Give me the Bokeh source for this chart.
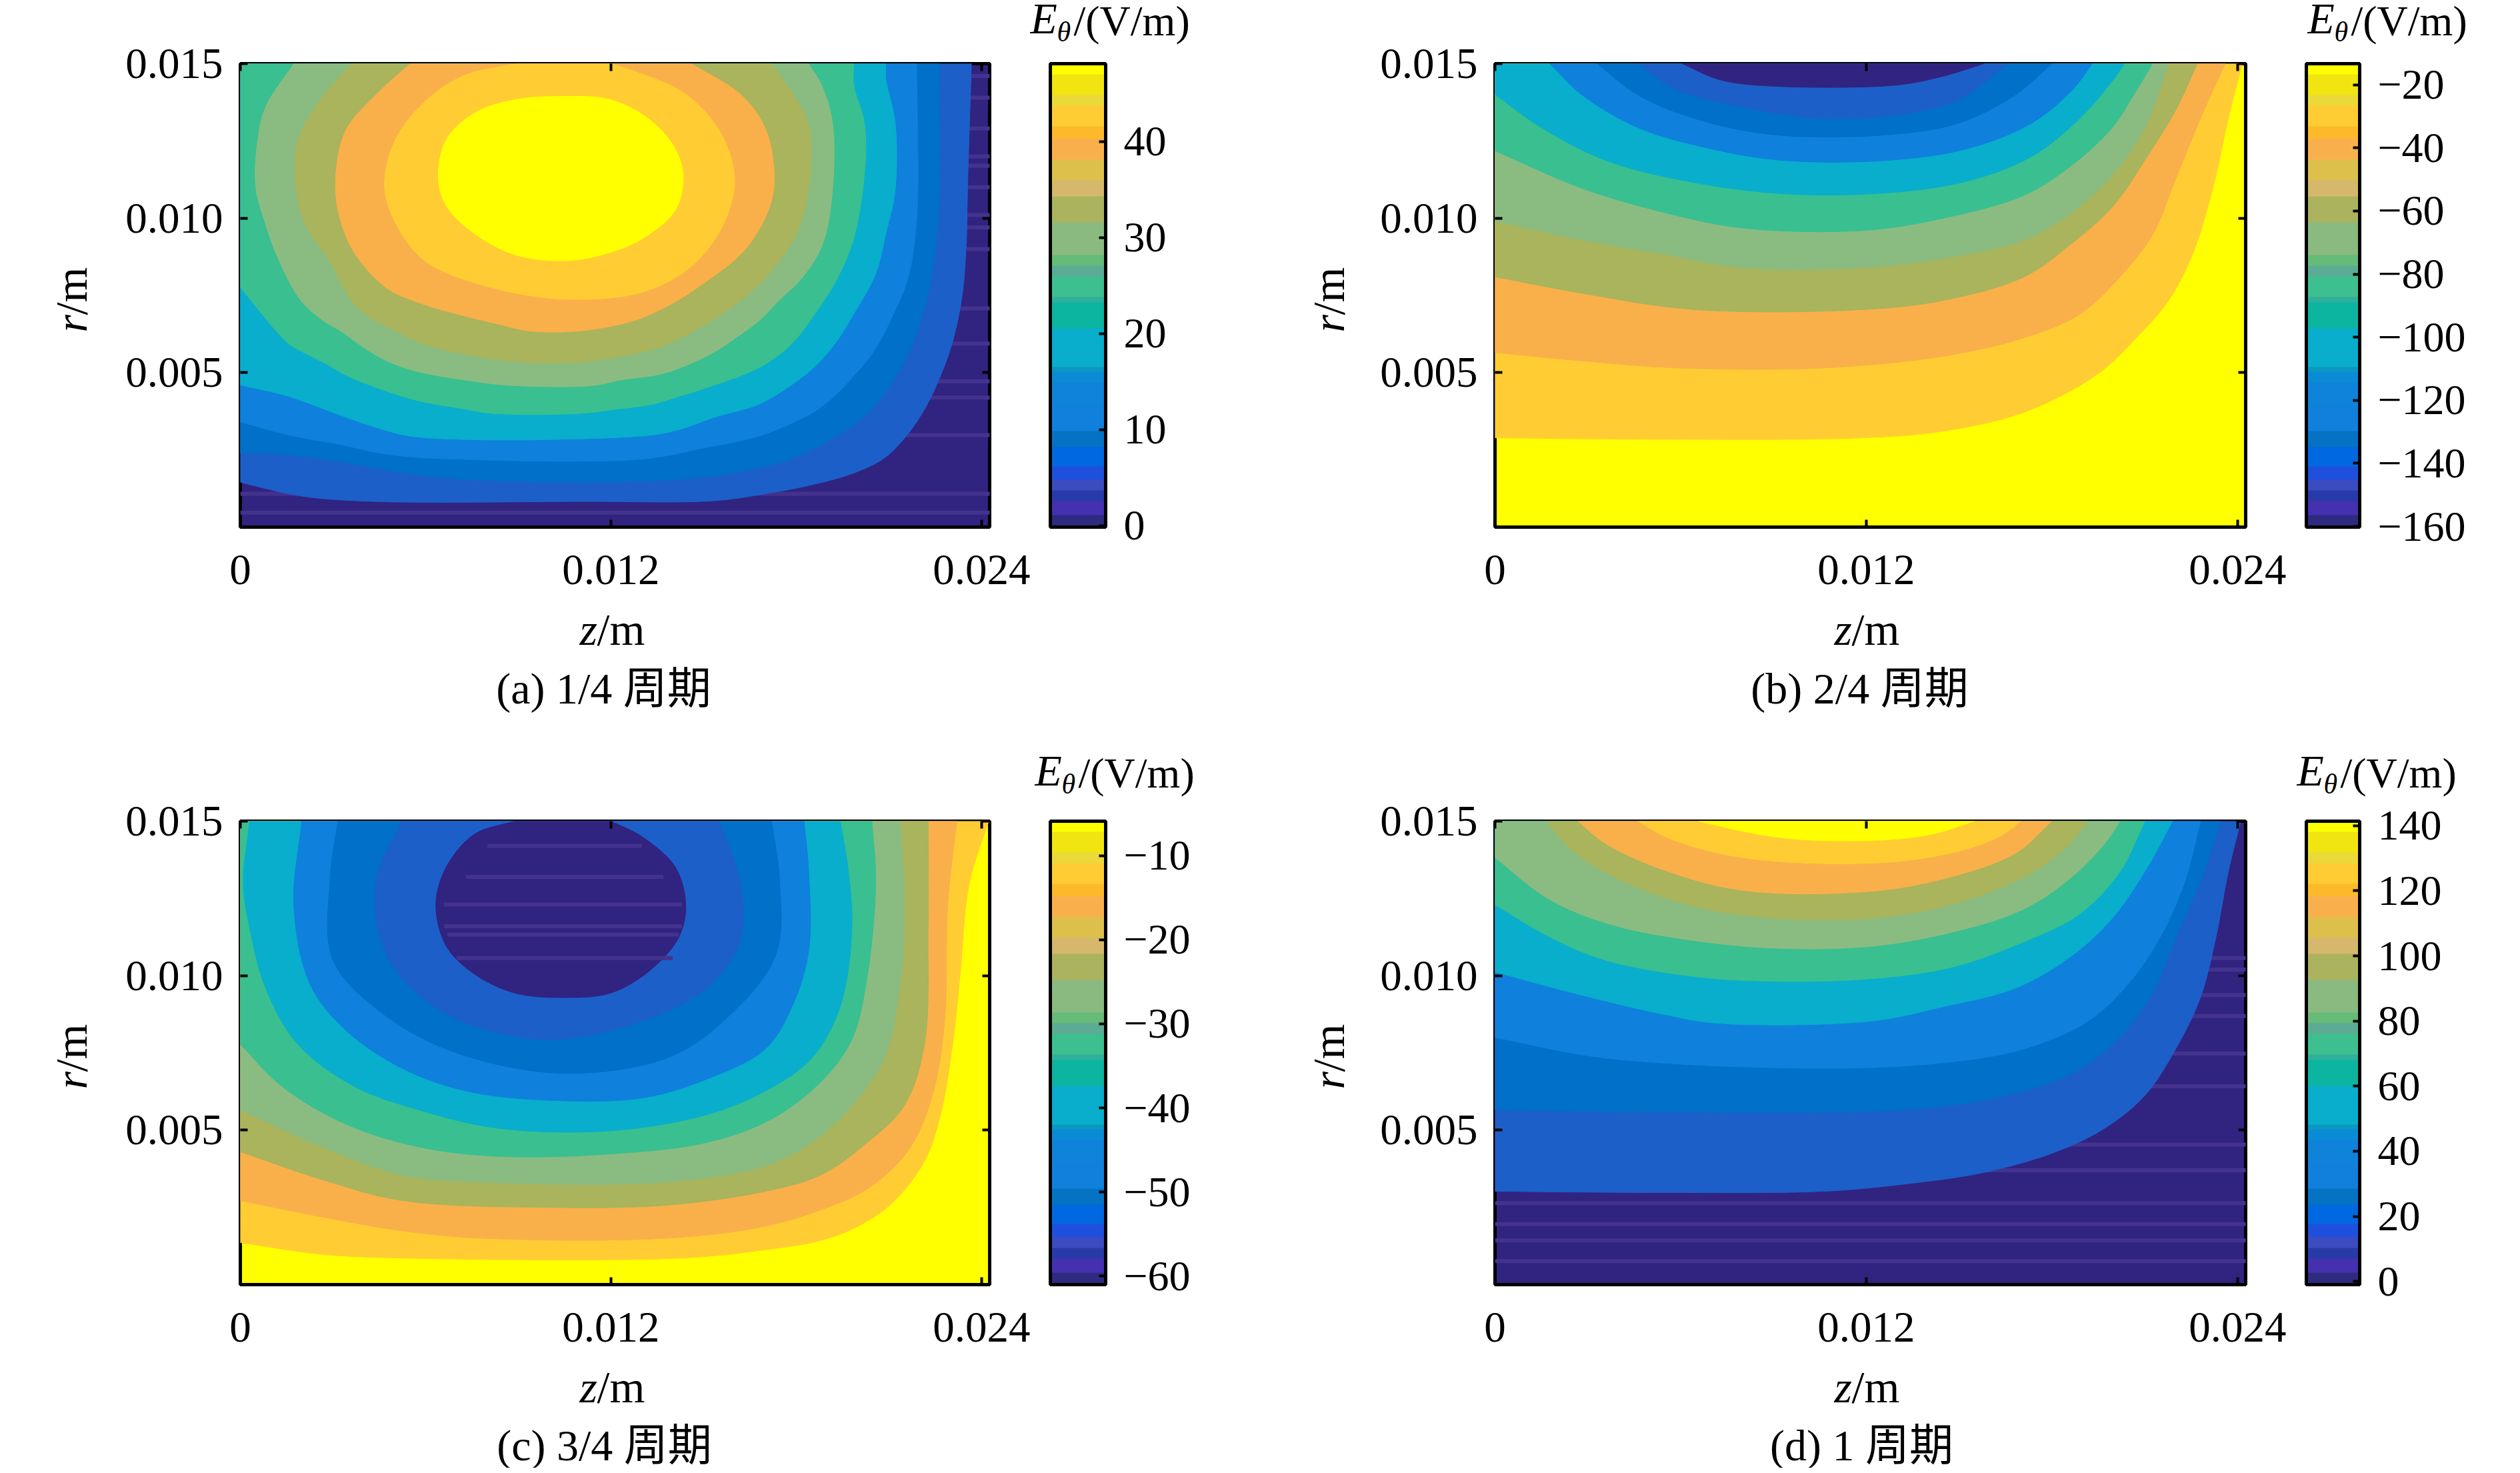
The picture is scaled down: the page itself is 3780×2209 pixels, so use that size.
from math import pi
from bokeh.embed import file_html
from bokeh.layouts import column, row
from bokeh.models import (ColorBar, ColumnDataSource, FixedTicker, Label, LinearAxis,
                          LinearColorMapper, Range1d)
from bokeh.plotting import figure
from bokeh.resources import INLINE

# ---------- fill colours of the contour bands ----------
navy, royal, mid, light, cyan = "#312380", "#1D5FC8", "#0070C8", "#0F80DC", "#08AECC"
green, sage, olive, orange, gold, yellow = "#3ABF90", "#8ABC82", "#A9B45C", "#F9B04A", "#FFCD33", "#FFFF00"
stripe_color = "#44338E"
rising_colors = [royal, mid, light, cyan, green, sage, olive, orange, gold, yellow]
falling_colors = [gold, orange, olive, sage, green, cyan, light, mid, royal, navy]

# ---------- colour bar bands, bottom to top ----------
bar_colors = ["#2E2A80", "#4530B0", "#273BA8", "#3B4CC0", "#1F50DD", "#0068E0", "#0672C4", "#1080DC", "#0F82D9",
              "#0A8BD5", "#0A98C0", "#09AECC", "#0CB5A0", "#2FB09A", "#3DBF8F", "#5CAB94", "#66BB78", "#8ABA80",
              "#ACB35E", "#D5B86C", "#DDC04C", "#F9B04C", "#FDB929", "#FFCC33", "#EBD93A", "#F0E510", "#FFFF00"]
bar_counts = [7, 8, 6, 6, 8, 11, 9, 15, 13, 6, 3, 22, 15, 3, 12, 6, 6, 19, 15, 9, 12, 12, 7, 12, 6, 12, 6]

# ---------- faint horizontal stripes seen in the darkest band: (z from, z to, r) in mm ----------
a_stripes = [(0, 24.3, r) for r in (.47, 1.08, 2.98, 4.19, 4.72, 5.94, 7.08, 9, 9.7, 10.1, 11, 11.7, 12, 12.9, 13.9, 14.6)]
b_stripes = []
c_stripes = [(8, 13, 14.2), (7.3, 13.7, 13.2), (6.6, 14.3, 12.3), (6.6, 14.3, 11.6), (6.7, 14.2, 11.33), (7, 14, 10.57)]
d_stripes = [(0, 24.3, r) for r in (.76, 1.43, 1.96, 2.64, 3.7, 4.53, 6.42, 7.48, 8.69, 9.37, 10.2, 10.57)]

# ---------- contour curves, (z, r) in mm, nested from outermost to innermost ----------
a_contours = [
    [(0, 1.45), (1.94, 1.01), (4.32, .83), (11, .83), (15.3, .85), (17, 1.08), (18.5, 1.37), (19.86, 1.75), (20.87, 2.25), (21.6, 3), (22.2, 3.9), (22.67, 4.9), (23.06, 6), (23.37, 7.5), (23.5, 9.1), (23.55, 11.2), (23.67, 15), (0, 15)],
    [(0, 2.4), (1.2, 2.38), (3, 2.15), (5.7, 1.7), (8, 1.51), (14.3, 1.55), (16.7, 1.9), (17.8, 2.2), (19.2, 2.89), (20.1, 3.5), (20.8, 4.26), (21.3, 5), (21.7, 5.8), (22, 6.6), (22.3, 7.7), (22.6, 10), (22.62, 15), (0, 15)],
    [(0, 3.4), (1.7, 2.95), (3.1, 2.7), (4.8, 2.35), (7, 2.2), (13, 2.2), (15, 2.56), (16.6, 2.89), (17.6, 3.25), (18.6, 3.75), (19.3, 4.3), (19.86, 4.9), (20.3, 5.4), (20.7, 6), (21.1, 6.8), (21.6, 8), (21.9, 10), (21.9, 15), (0, 15)],
    [(0, 4.6), (1.5, 4.25), (3.3, 3.6), (4.32, 3.25), (5.68, 2.92), (12.6, 2.92), (14, 3.1), (15.4, 3.57), (16.77, 3.97), (17.77, 4.55), (18.6, 5.2), (19.3, 6), (19.86, 6.9), (20.57, 8.2), (20.9, 9.5), (21.2, 10.9), (21.2, 13.1), (20.9, 14.5), (20.9, 15), (0, 15)],
    [(0, 7.76), (.5, 7.14), (.86, 6.7), (1.22, 6.28), (1.58, 5.92), (2.23, 5.56), (2.8, 5.27), (3.45, 4.9), (4.32, 4.55), (5.68, 4.11), (7.27, 3.82), (8.13, 3.68), (11, 3.68), (12.2, 3.82), (13.3, 3.97), (14.3, 4.26), (15.3, 4.58), (16.4, 4.98), (17.1, 5.34), (17.84, 5.92), (18.6, 6.9), (19.3, 8), (19.86, 9.35), (20.22, 11.6), (20.2, 13.1), (19.86, 14.3), (19.86, 15), (0, 15)],
    [(1.73, 15), (.82, 13.6), (.56, 12.5), (.5, 11), (.82, 9.8), (1.2, 8.75), (1.94, 7.36), (2.66, 6.7), (3.24, 6.35), (3.96, 5.84), (4.68, 5.41), (5.68, 5.05), (7.7, 4.7), (8.85, 4.58), (11.4, 4.58), (12.3, 4.76), (13.6, 4.95), (14.6, 5.3), (15.4, 5.7), (16, 6.1), (16.77, 6.66), (17.5, 7.4), (18.13, 8), (18.84, 9.13), (19.17, 10.9), (19.17, 13.1), (18.82, 14.3), (18.4, 15)],
    [(3.6, 15), (2.64, 13.9), (1.86, 12.5), (1.8, 11), (2.1, 9.8), (2.9, 8.6), (3.63, 7.3), (4.32, 6.7), (5.03, 6.35), (5.68, 6.02), (6.76, 5.7), (9.14, 5.34), (11, 5.34), (12.2, 5.5), (13.5, 5.8), (14.7, 6.35), (15.6, 6.9), (16.4, 7.5), (17.2, 8.3), (18, 9.5), (18.4, 11), (18.4, 13), (17.9, 14), (17.2, 15)],
    [(5.5, 15), (4.46, 14.06), (3.42, 12.85), (3.1, 11.5), (3.16, 10.26), (3.68, 8.9), (4.72, 7.75), (5.68, 7.3), (7, 6.9), (8.4, 6.56), (9.35, 6.35), (11, 6.35), (12.6, 6.64), (13.3, 6.9), (14, 7.25), (14.87, 7.8), (16.4, 9.05), (17.2, 10.57), (17.26, 11.8), (16.95, 13), (16.2, 14), (14.6, 15)],
    [(8.9, 15), (7.2, 14.6), (5.9, 13.7), (5, 12.5), (4.67, 11), (5.1, 9.7), (6, 8.6), (7.84, 7.83), (10.44, 7.38), (13, 7.6), (14.6, 8.44), (15.64, 9.8), (16, 11.3), (15.5, 12.85), (14.35, 14.06), (12.8, 14.74), (12, 15)],
    [(6.41, 11.3), (6.67, 12.54), (7.58, 13.4), (8.88, 13.83), (10.44, 13.94), (12, 13.83), (13.3, 13.15), (14.08, 12.24), (14.34, 11.33), (14.08, 10.26), (13.04, 9.35), (11.74, 8.82), (10.44, 8.62), (8.88, 8.82), (7.58, 9.5), (6.67, 10.4), (6.41, 11.3)],
]
b_contours = [
    [(0, 2.89), (5.4, 2.84), (11.9, 2.89), (14.5, 3.11), (17.1, 3.72), (19.43, 4.92), (20.73, 6.13), (21.77, 7.34), (22.55, 8.85), (23.2, 10.97), (23.7, 13.23), (24.15, 15), (0, 15)],
    [(0, 5.65), (2.8, 5.38), (5.92, 5.15), (10.6, 5.15), (14.5, 5.53), (17.1, 6.13), (18.9, 6.89), (20.2, 8.1), (21.25, 9.46), (22, 11.27), (22.8, 13.23), (23.6, 15), (0, 15)],
    [(0, 8.1), (2.8, 7.57), (6.44, 7.04), (11.9, 7.04), (14.5, 7.34), (17.1, 8.1), (18.6, 9.15), (19.95, 10.36), (21, 11.87), (22, 13.5), (22.7, 15), (0, 15)],
    [(0, 9.91), (2.8, 9.3), (5.4, 8.85), (8, 8.4), (11.9, 8.4), (14.5, 8.7), (17.1, 9.3), (18.65, 10.2), (19.95, 11.4), (21, 12.94), (21.77, 15), (0, 15)],
    [(0, 12.18), (2.8, 10.97), (5.4, 10.2), (8, 9.68), (11.9, 9.6), (14.5, 10), (17.1, 10.74), (18.65, 11.72), (19.95, 12.93), (20.73, 14.14), (21.25, 15), (0, 15)],
    [(0, 14), (1.5, 12.93), (3.58, 11.87), (6.18, 11.2), (9.3, 10.79), (12.68, 10.82), (15.27, 11.2), (17.35, 12), (18.9, 13.23), (19.95, 14.44), (20.34, 15), (0, 15)],
    [(1.77, 15), (2.8, 14), (4.62, 12.93), (6.96, 12.25), (9.3, 11.87), (12.68, 11.87), (15.27, 12.25), (17.35, 13.08), (18.65, 14.14), (19.3, 15)],
    [(3.3, 15), (4.6, 14), (6.44, 13.23), (9, 12.7), (12.7, 12.7), (15, 13.08), (16.83, 14), (18, 15)],
    [(4.62, 15), (5.92, 14.14), (8, 13.6), (10.6, 13.23), (13.2, 13.38), (15, 13.84), (16.57, 15)],
    [(6.05, 15), (7.2, 14.5), (8.5, 14.3), (12.9, 14.3), (14.5, 14.6), (15.8, 15)],
]
c_contours = [
    [(0, 1.36), (2.64, .98), (5.24, .86), (14.3, .86), (17, 1.13), (18.8, 1.43), (20, 1.89), (21.1, 2.64), (22.15, 4), (22.67, 5.5), (23.06, 7.78), (23.3, 10), (23.6, 13), (24.23, 15), (0, 15)],
    [(0, 2.72), (2.64, 2.19), (5.24, 1.74), (7.84, 1.5), (13.8, 1.5), (17, 1.89), (18.8, 2.42), (20.3, 3.1), (21.6, 4.3), (22.4, 6.1), (22.8, 8.5), (22.9, 12.3), (23.2, 15), (0, 15)],
    [(0, 4.3), (2.64, 3.4), (5.24, 2.72), (9.9, 2.5), (13.8, 2.57), (17, 3.02), (18.8, 3.55), (20.3, 4.6), (21.5, 5.8), (22.15, 7.78), (22.27, 11.56), (22.27, 15), (0, 15)],
    [(0, 5.66), (2.64, 4.46), (5.24, 3.55), (7.84, 3.32), (13.8, 3.32), (17, 3.85), (18.5, 4.6), (19.8, 5.8), (20.85, 7.33), (21.36, 9.74), (21.5, 12.3), (21.36, 15), (0, 15)],
    [(0, 7.78), (1.34, 6.42), (3.4, 5.2), (5.76, 4.46), (8.36, 4.15), (12, 4.23), (15.1, 4.6), (17.2, 5.36), (18.8, 6.57), (19.8, 7.93), (20.3, 10), (20.57, 13), (20.45, 15), (0, 15)],
    [(.3, 15), (.1, 13), (.3, 11.56), (.82, 9.6), (1.86, 7.78), (3.68, 6.42), (5.76, 5.66), (8.36, 5.06), (12, 4.98), (15.1, 5.5), (17, 6.27), (18.5, 7.33), (19.42, 9), (19.8, 11.56), (19.67, 13.5), (19.42, 15)],
    [(1.99, 15), (1.73, 12.3), (2.25, 9.74), (3.42, 8.23), (5.24, 7), (7.3, 6.27), (9.9, 5.97), (13, 6.04), (15.1, 6.65), (17, 7.63), (17.86, 9), (18.4, 10.8), (18.4, 13.37), (18.25, 15)],
    [(3.16, 15), (2.9, 13.07), (3, 10.5), (4.72, 8.69), (7.06, 7.48), (10.44, 6.84), (13.8, 7.33), (15.64, 8.53), (17.33, 10.65), (17.46, 13.07), (17.2, 15)],
    [(5.24, 15), (4.46, 13.37), (4.4, 11.86), (5, 10.2), (6.8, 8.69), (9.9, 7.93), (13, 8.53), (15.1, 9.6), (16.17, 11.1), (16.17, 13.07), (15.5, 15)],
    [(8.88, 15), (7.58, 14.58), (6.67, 13.52), (6.33, 12.3), (6.67, 10.95), (7.58, 10.05), (8.88, 9.44), (10.44, 9.29), (12, 9.44), (13.3, 10.2), (14.2, 11.25), (14.42, 12.3), (14.08, 13.52), (13, 14.5), (12, 15)],
]
d_contours = [
    [(0, 3.02), (5.4, 2.98), (10.6, 3.02), (13.2, 3.25), (15.8, 3.63), (18.13, 4.3), (19.7, 5.06), (21, 6.12), (22, 7.63), (22.8, 9.3), (23.3, 11.25), (23.7, 13.37), (24.1, 15), (0, 15)],
    [(0, 5.66), (5.4, 5.59), (13.2, 5.66), (15.8, 5.97), (18.4, 6.72), (19.95, 7.78), (21.25, 9.44), (22, 11.25), (22.8, 13.07), (23.45, 15), (0, 15)],
    [(0, 8), (3.58, 7.33), (10.6, 7), (14.5, 7.18), (17.1, 7.63), (19.17, 8.53), (20.47, 9.74), (21.5, 11.25), (22.3, 13.07), (22.8, 15), (0, 15)],
    [(0, 10.12), (2.8, 9.37), (5.4, 8.76), (7.2, 8.46), (12.16, 8.53), (14.5, 9), (16.83, 9.6), (18.65, 10.65), (19.95, 11.86), (21, 13.37), (21.9, 15), (0, 15)],
    [(0, 12.3), (1.77, 11.25), (3.58, 10.5), (6.44, 9.97), (9, 9.82), (12.16, 9.9), (14.75, 10.27), (17.1, 11.1), (18.9, 12), (20.2, 13.37), (21, 15), (0, 15)],
    [(0, 13.82), (1.77, 12.46), (3.84, 11.63), (6.7, 11.1), (9.3, 10.88), (12.16, 10.95), (14.75, 11.4), (17.1, 12.16), (18.65, 13.2), (19.7, 14.27), (20.2, 15), (0, 15)],
    [(1.64, 15), (2.55, 14), (4.1, 13.07), (6.44, 12.24), (9, 11.86), (12.16, 11.86), (14.75, 12.3), (17.1, 13.2), (18.4, 14.1), (19.17, 15)],
    [(2.68, 15), (3.58, 14.27), (5.4, 13.44), (8, 12.76), (12.16, 12.73), (14.75, 13.2), (16.83, 13.97), (18, 15)],
    [(4.62, 15), (5.66, 14.43), (8, 13.82), (12.16, 13.64), (14.75, 13.97), (16.3, 14.5), (17, 15)],
    [(6.57, 15), (8.5, 14.58), (10, 14.4), (12.7, 14.4), (14.2, 14.6), (15.5, 15)],
]

# ---------- axes and labels ----------
z_ticks = [0, 0.012, 0.024]
z_tick_labels = ["0", "0.012", "0.024"]
r_ticks = [0.005, 0.010, 0.015]
r_tick_labels = ["0.005", "0.010", "0.015"]
z_max, r_max = 0.02426, 0.015
captions = ["(a) 1/4 周期", "(b) 2/4 周期", "(c) 3/4 周期", "(d) 1 周期"]
a_bar_ticks, a_bar_low, a_bar_high = [0, 10, 20, 30, 40], -0.15, 48.1
b_bar_ticks, b_bar_low, b_bar_high = [-160, -140, -120, -100, -80, -60, -40, -20], -160.2, -13.3
c_bar_ticks, c_bar_low, c_bar_high = [-60, -50, -40, -30, -20, -10], -61, -5.9
d_bar_ticks, d_bar_low, d_bar_high = [0, 20, 40, 60, 80, 100, 120, 140], -1, 141.4

SERIF = "Liberation Serif"
MIXED = "Liberation Serif, Noto Sans CJK SC"
TICK_PX = "65px"


def smooth(pts):
    """Draw a read curve as a centripetal Catmull-Rom spline through its read points."""
    corner = None
    pts = list(pts)
    if pts[-1] == (0, 15) and pts[0] != (0, 15):
        corner = pts.pop()
    closed = pts[0] == pts[-1]
    if closed:
        ext = [pts[-2]] + pts + [pts[1]]
    else:
        a, b = pts[0], pts[1]
        y, z = pts[-2], pts[-1]
        ext = [(2 * a[0] - b[0], 2 * a[1] - b[1])] + pts + [(2 * z[0] - y[0], 2 * z[1] - y[1])]
    out = []
    for i in range(1, len(ext) - 2):
        p0, p1, p2, p3 = ext[i - 1], ext[i], ext[i + 1], ext[i + 2]
        dist = lambda u, v: max(((u[0] - v[0]) ** 2 + (u[1] - v[1]) ** 2) ** 0.25, 1e-6)
        t0, t1 = 0.0, dist(p0, p1)
        t2 = t1 + dist(p1, p2)
        t3 = t2 + dist(p2, p3)
        for k in range(8):
            t = t1 + (t2 - t1) * k / 8
            def lerp(u, v, ta, tb):
                w = (t - ta) / (tb - ta)
                return (u[0] + (v[0] - u[0]) * w, u[1] + (v[1] - u[1]) * w)
            a1, a2, a3 = lerp(p0, p1, t0, t1), lerp(p1, p2, t1, t2), lerp(p2, p3, t2, t3)
            b1, b2 = lerp(a1, a2, t0, t2), lerp(a2, a3, t1, t3)
            out.append(lerp(b1, b2, t1, t2))
    out.append(pts[-1])
    if corner:
        out.append(corner)
    return out


def strip(x0, y0, w, h, items, base=None):
    """A bare figure that only carries texts; items are (page x, page y, text, size, style, align, angle).
    base is the page y of the strip's frame bottom, when a row aligns it with its neighbour's frame."""
    if base is None:
        base = y0 + h
    s = figure(width=w, height=h, output_backend="svg", toolbar_location=None, min_border=0,
               x_range=Range1d(0, 1), y_range=Range1d(0, 1), x_axis_location=None, y_axis_location=None,
               outline_line_color=None, background_fill_color=None, border_fill_color=None)
    s.grid.visible = False
    for x, y, text, size, style, align, angle in items:
        s.add_layout(Label(x=x - x0, y=base - y, x_units="screen", y_units="screen", text=text,
                           text_font=MIXED, text_font_size=size, text_font_style=style, text_align=align,
                           text_baseline="middle", text_color="black", angle=angle, angle_units="rad"))
    return s


def panel(contours, colors, base, stripes, ticks, low, high, caption, ox, oy, w, frame_left, frame_top, frame_w, xy):
    frame_h, top_h, gap_top, gap_bottom = 695, frame_top - oy - 25, 25, 105
    strip_w = 150
    main_y = oy + top_h
    main_h = gap_top + frame_h + gap_bottom
    main_w = w - strip_w
    left = frame_left - ox - strip_w
    p = figure(width=main_w, height=main_h, output_backend="svg", toolbar_location=None,
               x_range=Range1d(0, z_max), y_range=Range1d(0, r_max),
               min_border_left=left, min_border_top=gap_top, min_border_right=main_w - left - frame_w,
               min_border_bottom=gap_bottom, x_axis_location=None, y_axis_location=None,
               background_fill_color=base, outline_line_color="black", outline_line_width=5)
    p.grid.visible = False
    curves = [smooth(c) for c in contours]
    src = ColumnDataSource(dict(xs=[[pt[0] * 1e-3 for pt in c] for c in curves],
                                ys=[[pt[1] * 1e-3 for pt in c] for c in curves], color=colors))
    if base == navy and stripes:
        p.segment([s[0] * 1e-3 for s in stripes], [s[2] * 1e-3 for s in stripes],
                  [s[1] * 1e-3 for s in stripes], [s[2] * 1e-3 for s in stripes],
                  line_color=stripe_color, line_width=6)
    p.patches("xs", "ys", source=src, fill_color="color", line_color="color", line_width=1)
    if base != navy and stripes:
        p.segment([s[0] * 1e-3 for s in stripes], [s[2] * 1e-3 for s in stripes],
                  [s[1] * 1e-3 for s in stripes], [s[2] * 1e-3 for s in stripes],
                  line_color=stripe_color, line_width=6)

    def axis(side, ticker_vals, names, standoff, labelled):
        ax = LinearAxis(ticker=FixedTicker(ticks=ticker_vals), axis_line_color=None,
                        major_tick_in=11, major_tick_out=0, minor_tick_line_color=None,
                        major_tick_line_color="black", major_tick_line_width=4,
                        major_label_standoff=standoff if labelled else 0,
                        major_label_text_font=SERIF, major_label_text_color="black",
                        major_label_text_font_size=TICK_PX if labelled else "0px",
                        major_label_overrides=dict(zip(ticker_vals, names)))
        p.add_layout(ax, side)
    axis("left", r_ticks, r_tick_labels, 26, True)
    axis("below", z_ticks, z_tick_labels, 42, True)
    axis("above", z_ticks, [""] * 3, 0, False)
    axis("right", r_ticks, [""] * 3, 0, False)

    pal = [c for c, n in zip(bar_colors, bar_counts) for _ in range(n)]
    mapper = LinearColorMapper(palette=pal, low=low, high=high)
    overrides = {t: (str(t).replace("-", "\u2212")) for t in ticks}
    bar = ColorBar(color_mapper=mapper, ticker=FixedTicker(ticks=ticks), major_label_overrides=overrides,
                   width=xy["bar_w"], height=frame_h, location=(91, 0), padding=0, margin=0,
                   bar_line_color="black", bar_line_width=5, major_tick_line_color="black",
                   major_tick_line_width=4, major_tick_in=10, minor_tick_line_color=None,
                   label_standoff=27, major_label_text_font=SERIF, major_label_text_font_size="64px",
                   major_label_text_color="black", background_fill_color=None, border_line_color=None)
    p.add_layout(bar, "right")

    # colour bar title: italic E, subscript theta, upright unit
    title = strip(ox, oy, w, top_h, [
        (xy["ex"], xy["ey"] - 4, "E", "66px", "italic", "left", 0.0),
        (xy["ex"] + 40, xy["ey"] + 16, "θ", "42px", "italic", "left", 0.0),
        (xy["ex"] + 65, xy["ey"], "/(V/m)", "64px", "normal", "left", 0.0),
    ])
    # the row aligns this strip's frame with the panel's frame, so its texts count from the frame's bottom
    r_label = strip(ox, main_y, strip_w, main_h, [
        (xy["rx"], xy["ry"] + 49, "r", "68px", "italic", "left", pi / 2),
        (xy["rx"], xy["ry"] + 23, "/m", "68px", "normal", "left", pi / 2),
    ], base=main_y + main_h - gap_bottom)
    bottom_y = main_y + main_h
    bottom = strip(ox, bottom_y, w, xy["bottom_h"], [
        (xy["zx"], xy["zy"], "z", "68px", "italic", "left", 0.0),
        (xy["zx"] + 26, xy["zy"], "/m", "68px", "normal", "left", 0.0),
        (xy["cx"], xy["cy"], caption, "66px", "normal", "center", 0.0),
    ])
    return column(title, row(r_label, p), bottom)


# page x, page y of each panel's corner and of its frame, in reference pixels
pa = panel(a_contours, rising_colors, navy, a_stripes, a_bar_ticks, a_bar_low, a_bar_high, captions[0],
           0, 0, 1900, 360, 95, 1124,
           dict(bar_w=83, bottom_h=205, zx=869, zy=943, rx=106, ry=449, cx=905, cy=1032, ex=1545, ey=31))
pb = panel(b_contours, falling_colors, yellow, b_stripes, b_bar_ticks, b_bar_low, b_bar_high, captions[1],
           1900, 0, 1872, 2242, 95, 1126,
           dict(bar_w=80, bottom_h=205, zx=2751, zy=943, rx=1992, ry=449, cx=2789, cy=1032, ex=3461, ey=31))
pc = panel(c_contours, falling_colors, yellow, c_stripes, c_bar_ticks, c_bar_low, c_bar_high, captions[2],
           0, 1100, 1900, 360, 1231, 1124,
           dict(bar_w=83, bottom_h=170, zx=869, zy=2079, rx=106, ry=1584, cx=906, cy=2167, ex=1552, ey=1159))
pd = panel(d_contours, rising_colors, navy, d_stripes, d_bar_ticks, d_bar_low, d_bar_high, captions[3],
           1900, 1100, 1872, 2242, 1231, 1126,
           dict(bar_w=80, bottom_h=170, zx=2751, zy=2079, rx=1992, ry=1584, cx=2792, cy=2167, ex=3445, ey=1159))

layout = column(row(pa, pb), row(pc, pd))
open("out.html", "w").write(file_html(layout, INLINE))
